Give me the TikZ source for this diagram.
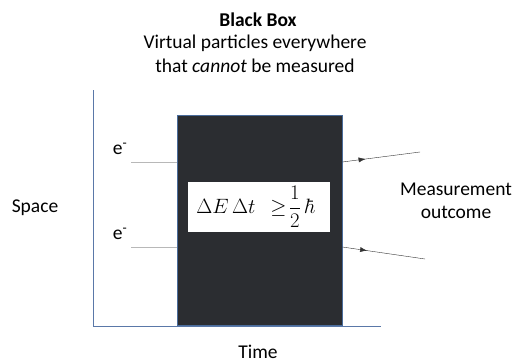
\documentclass[tikz,border=0pt]{standalone}
\usepackage{amsmath}
\usepackage{fontspec}
\setmainfont{Carlito}
\usetikzlibrary{decorations.markings, arrows.meta}

\definecolor{boxdark}{HTML}{2B2D31}
\definecolor{boxedge}{HTML}{4A6C9B}
\definecolor{axisblue}{HTML}{5A78A8}
\definecolor{inlinegray}{HTML}{B8B8B8}

\tikzset{
  label text/.style={font=\fontsize{19.5}{23}\selectfont, inner sep=0pt, align=center},
  out arrow/.style={thin, draw=black!80,
    postaction={decorate, decoration={markings,
      mark=at position 0.3 with {\arrow{Latex[length=7pt, width=5pt]}}}}}
}

\begin{document}
\begin{tikzpicture}[x=1pt, y=-1pt, % 以像素为单位, y 向下
                    every node/.style={label text}
                   ]
    \useasboundingbox (0,0) rectangle (517,364);

    % 标题
    \node (title) at (258,20) {\textbf{Black Box}};
    \node (subA) at (255,43) {Virtual particles everywhere};
    \node (subB) at (255,66) {that \textit{cannot} be measured};

    % 坐标轴
    \coordinate (axTop) at (93,90);
    \coordinate (axO) at (93,326);
    \coordinate (axEnd) at (381,326);
    \draw[axisblue, line width=0.9pt] (axTop) -- (axO) -- (axEnd);

    \node (space) at (35,208) {Space};
    \node (time) at (258,352) {Time};

    % 黑盒
    \node[draw=boxedge, fill=boxdark, line width=0.6pt,
          minimum width=165pt, minimum height=210pt] (blackbox) at (259.5,220) {};

    % 不确定关系 (白框里放公式)
    \node[fill=white, minimum width=142pt, minimum height=50pt] (relation) at (259,207)
          {\hspace*{-6pt}$\Delta E\,\Delta t\;\,\geq\!\dfrac{1}{2}\;\hbar$};

    % 入射电子
    \coordinate (inTop) at (131,162);
    \coordinate (inBot) at (131,247);
    \draw[inlinegray, thin] (inTop) -- (blackbox.west |- inTop);
    \draw[inlinegray, thin] (inBot) -- (blackbox.west |- inBot);
    \node (eTop) at (120,149) {e\textsuperscript{-}};
    \node (eBot) at (120,234) {e\textsuperscript{-}};

    % 测量结果
    \coordinate (outTop) at (420,152);
    \coordinate (outBot) at (425,259);
    \draw[out arrow] (blackbox.east |- inTop) -- (outTop);
    \draw[out arrow] (blackbox.east |- inBot) -- (outBot);

    \node (outcome) at (456,201) {Measurement\\outcome};
\end{tikzpicture}
\end{document}
